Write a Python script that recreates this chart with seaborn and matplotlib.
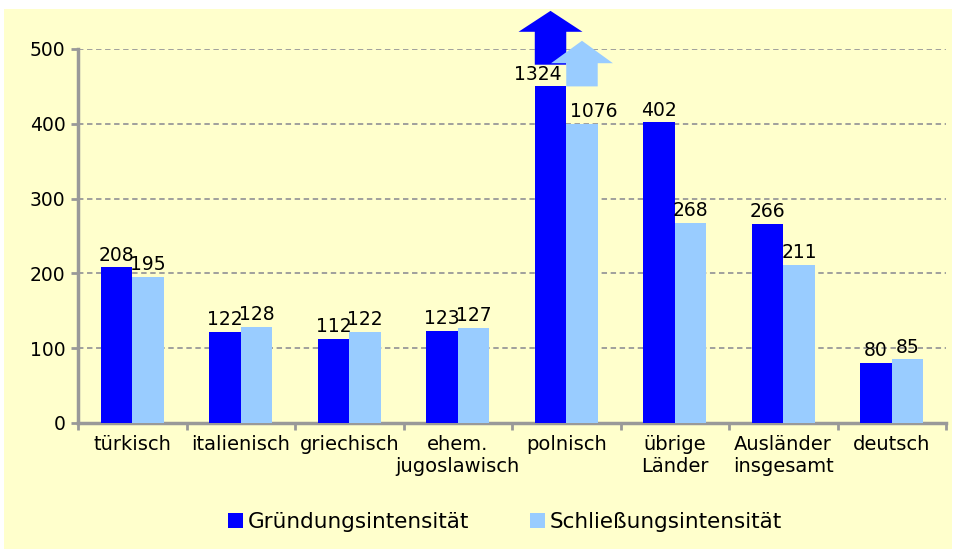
import numpy as np
import pandas as pd
import matplotlib
matplotlib.use("Agg")
import matplotlib.pyplot as plt
from matplotlib.patches import Rectangle, Polygon
from matplotlib.ticker import FixedLocator
import seaborn as sns

# --- data ---
categories = ["türkisch", "italienisch", "griechisch", "ehem.\njugoslawisch",
              "polnisch", "übrige\nLänder", "Ausländer\ninsgesamt", "deutsch"]
series = ["Gründungsintensität", "Schließungsintensität"]
gruendung = [208, 122, 112, 123, 1324, 402, 266, 80]
schliessung = [195, 128, 122, 127, 1076, 268, 211, 85]
# bars that run off the scale are cut and marked with an arrow
cap = {"Gründungsintensität": 450, "Schließungsintensität": 400}
y_ticks = [0, 100, 200, 300, 400, 500]

colors = {"Gründungsintensität": "#0000FF", "Schließungsintensität": "#99CCFF"}
bg = "#FFFFCC"
grey = "#999999"

rows = []
for s, vals in zip(series, [gruendung, schliessung]):
    for c, v in zip(categories, vals):
        rows.append({"cat": c, "series": s, "value": v, "shown": min(v, cap[s])})
df = pd.DataFrame(rows)

sns.set_theme(style="white")
plt.rcParams["font.family"] = ["DejaVu Sans"]

fig = plt.figure(figsize=(9.57, 5.49), dpi=100, facecolor="white")
fig.patches.append(Rectangle((4 / 957, 0), 948 / 957, 1 - 9 / 549,
                             transform=fig.transFigure, facecolor=bg,
                             edgecolor="none", zorder=-10))
ax = fig.add_axes([78 / 957, 1 - 423 / 549, 868 / 957, 374 / 549])
ax.patch.set_alpha(0)

sns.barplot(data=df, x="cat", y="shown", hue="series", order=categories,
            hue_order=series, palette=colors, width=0.58, saturation=1,
            edgecolor="none", linewidth=0, ax=ax, legend=False, zorder=3)

ax.set_ylim(0, 500)
ax.set_xlim(-0.5, len(categories) - 0.5)
ax.set_yticks(y_ticks)
ax.yaxis.grid(True, color=grey, linestyle=(0, (3, 2)), linewidth=1.3, zorder=0)
ax.set_axisbelow(True)

for side in ["top", "right"]:
    ax.spines[side].set_visible(False)
for side in ["left", "bottom"]:
    ax.spines[side].set_color(grey)
    ax.spines[side].set_linewidth(2.5)

ax.tick_params(axis="y", which="major", left=True, length=5, width=2,
               color=grey, labelsize=13.5, pad=4, labelcolor="black")
ax.tick_params(axis="x", which="major", length=0, labelsize=14, pad=9,
               labelcolor="black")
ax.xaxis.set_minor_locator(FixedLocator(np.arange(-0.5, len(categories), 1.0)))
ax.tick_params(axis="x", which="minor", bottom=True, length=5, width=2, color=grey)
ax.set_xlabel("")
ax.set_ylabel("")

# value labels
i_pol = categories.index("polnisch")
label_shift = [-9.5, 8.5]  # points, only for the cut polnisch bars
for k, (cont, vals) in enumerate(zip(ax.containers, [gruendung, schliessung])):
    anns = ax.bar_label(cont, labels=[str(v) for v in vals], padding=2,
                        fontsize=13.5, color="black")
    anns[i_pol].xyann = (label_shift[k], anns[i_pol].xyann[1])

# arrows above the cut bars
arrow_spec = [
    # (series idx, shaft bottom, head base, tip, head width)
    (0, 479, 523, 551, 0.59),
    (1, 450, 481, 511, 0.57),
]
for si, y0, y1, y2, hw in arrow_spec:
    bar = ax.containers[si].patches[i_pol]
    x0 = bar.get_x()
    w = bar.get_width()
    xc = x0 + w / 2
    pts = [(x0, y0), (x0 + w, y0), (x0 + w, y1), (xc + hw / 2, y1),
           (xc, y2), (xc - hw / 2, y1), (x0, y1)]
    ax.add_patch(Polygon(pts, closed=True, facecolor=colors[series[si]],
                         edgecolor="none", clip_on=False, zorder=4 + si))

handles = [Rectangle((0, 0), 1, 1, facecolor=colors[s], edgecolor="none") for s in series]
fig.legend(handles, series, loc="center", bbox_to_anchor=(505 / 957, 1 - 522 / 549),
           ncol=2, frameon=False, fontsize=15.5, handlelength=0.7, handleheight=0.7,
           handletextpad=0.2, columnspacing=2.85, labelcolor="black")

fig.savefig("out.png", dpi=100, facecolor="white")
